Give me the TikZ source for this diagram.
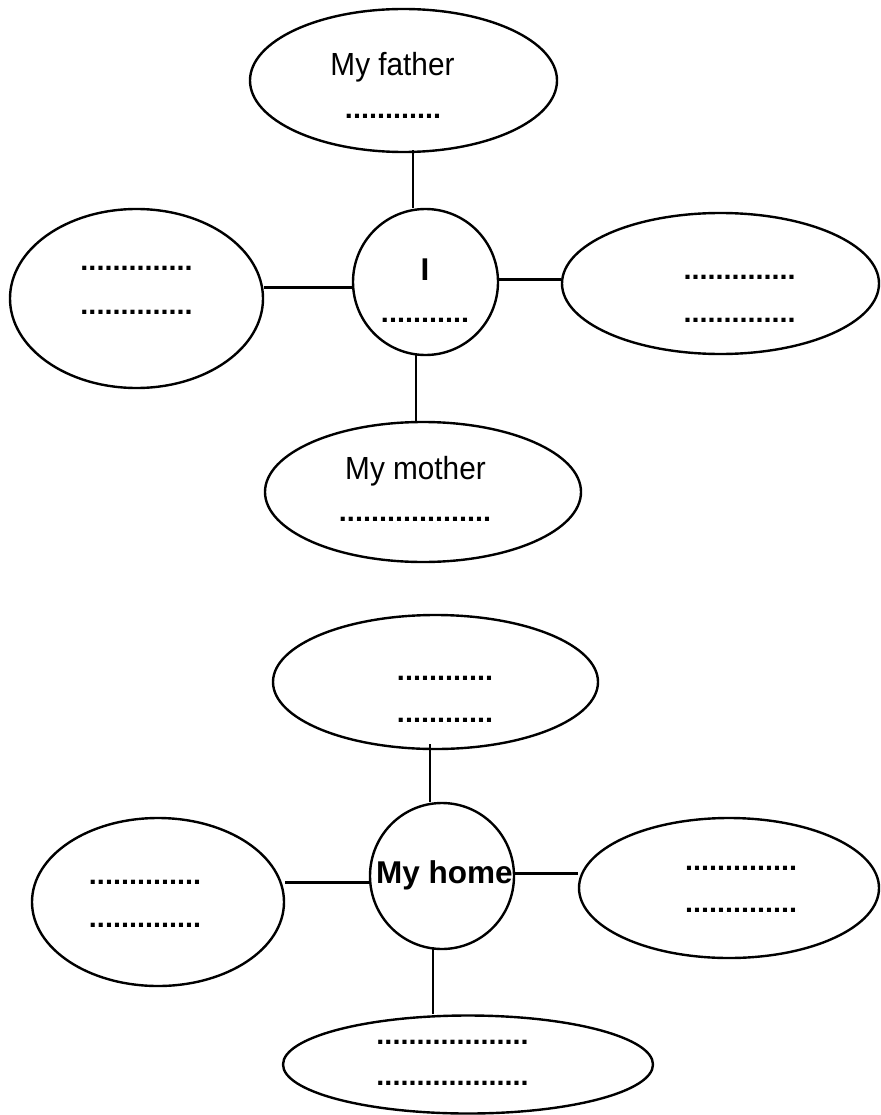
\documentclass[tikz,border=0pt]{standalone}
\usepackage{fontspec}
\setmainfont{Liberation Sans}
\usetikzlibrary{shapes.geometric}
\tikzset{
  bubble/.style={draw=black, line width=2.4pt, ellipse, inner sep=0pt, fill=white},
  link/.style={draw=black, line width=3pt},
  lbl/.style={anchor=base, inner sep=0pt, font=\fontsize{32}{38}\selectfont},
  blbl/.style={anchor=base, inner sep=0pt, font=\fontsize{31.5}{37}\selectfont\bfseries},
  dots/.style={anchor=base, inner sep=0pt, font=\fontsize{28.8}{34}\selectfont\bfseries}
}
\newcommand{\dd}[1]{\foreach \k in {1,...,#1}{.}}
\begin{document}
\begin{tikzpicture}[x=1pt,y=-1pt]
\useasboundingbox (0,0) rectangle (880,1115);
% ---------- top diagram ----------
\node[bubble, minimum width=307pt, minimum height=143pt] (father) at (403.5,80.5) {};
\node[bubble, minimum width=253pt, minimum height=179pt] (left1) at (136.5,298.5) {};
\node[bubble, minimum width=145pt, minimum height=146pt] (me) at (425.5,282) {};
\node[bubble, minimum width=317pt, minimum height=141pt] (right1) at (720.5,283.5) {};
\node[bubble, minimum width=316pt, minimum height=140pt] (mother) at (423,492) {};
\draw[link, line width=2.6pt] ([xshift=9.5pt,yshift=3pt]father.south) -- ([xshift=-12.5pt]me.north);
\draw[link] ([yshift=11.5pt]left1.east) -- ([yshift=-5pt]me.west);
\draw[link] ([yshift=3pt]me.east) -- ([yshift=4.5pt]right1.west);
\draw[link, line width=2.6pt] ([xshift=-9.5pt,yshift=2pt]me.south) -- ([xshift=-7pt]mother.north);
\node[lbl] (t1) at (392.5,76) {\scalebox{0.93}[1]{My father}};
\node[dots] (d1) at (393,118.5) {\dd{12}};
\node[dots] (d2) at (136.5,270.5) {\dd{14}};
\node[dots] (d3) at (136.5,314.5) {\dd{14}};
\node[blbl] (t2) at (425,280) {I};
\node[dots] (d4) at (425,322.5) {\dd{11}};
\node[dots] (d5) at (739.5,279.5) {\dd{14}};
\node[dots] (d6) at (739.5,322.5) {\dd{14}};
\node[lbl] (t3) at (415.5,479) {\scalebox{0.93}[1]{My mother}};
\node[dots] (d7) at (415,521.5) {\dd{19}};
% ---------- bottom diagram ----------
\node[bubble, minimum width=325pt, minimum height=134pt] (htop) at (435.5,682) {};
\node[bubble, minimum width=144pt, minimum height=146pt] (home) at (442,876) {};
\node[bubble, minimum width=252pt, minimum height=168pt] (left2) at (158,902) {};
\node[bubble, minimum width=300pt, minimum height=140pt] (right2) at (729,888) {};
\node[bubble, minimum width=370pt, minimum height=98pt] (hbot) at (468,1064.5) {};
\draw[link, line width=2.6pt] ([xshift=-5.5pt,yshift=6pt]htop.south) -- ([xshift=-12pt]home.north);
\draw[link] ([yshift=20pt]left2.east) -- ([yshift=-6pt]home.west);
\draw[link] ([yshift=3pt]home.east) -- ([yshift=15pt]right2.west);
\draw[link, line width=2.6pt] ([xshift=-9pt,yshift=3pt]home.south) -- ([xshift=-35pt]hbot.north);
\node[dots] (e1) at (445,680.5) {\dd{12}};
\node[dots] (e2) at (445,722.5) {\dd{12}};
\node[blbl] (t4) at (444.5,883) {My home};
\node[dots] (e3) at (145,884.5) {\dd{14}};
\node[dots] (e4) at (145,927.5) {\dd{14}};
\node[dots] (e5) at (741,870.5) {\dd{14}};
\node[dots] (e6) at (741,912.5) {\dd{14}};
\node[dots] (e7) at (452.5,1044.5) {\dd{19}};
\node[dots] (e8) at (452.5,1085.5) {\dd{19}};
\end{tikzpicture}
\end{document}
